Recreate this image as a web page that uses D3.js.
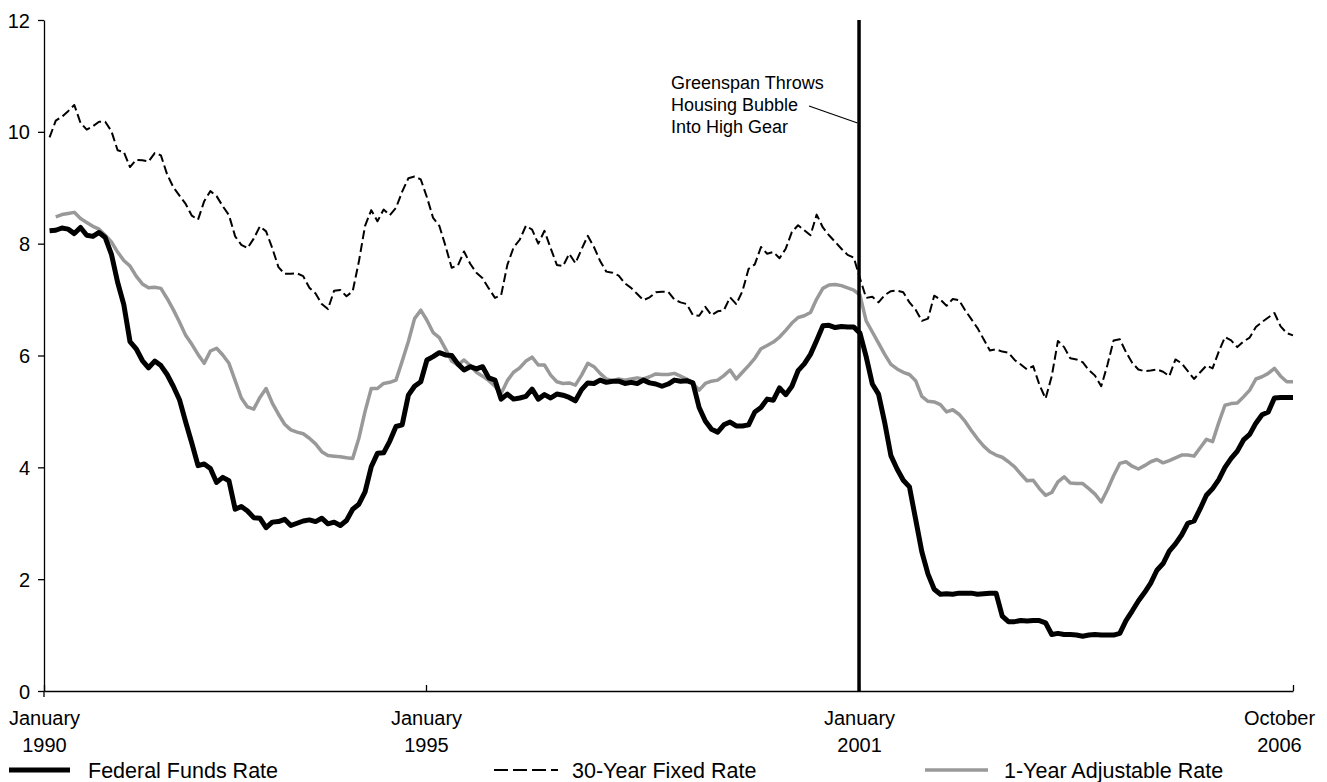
<!DOCTYPE html>
<html>
<head>
<meta charset="utf-8">
<script src="https://cdn.jsdelivr.net/npm/d3@7"></script>
<style>
  body { margin: 0; background: #fff; }
  text { font-family: 'Liberation Sans', Arial, Helvetica, sans-serif; fill: #000; }
</style>
</head>
<body>
<script>
// monthly, January 1990 .. October 2006 (202 months)
const fedFunds = [
  8.23, 8.24, 8.28, 8.26, 8.18, 8.29, 8.15, 8.13, 8.20, 8.11, 7.81, 7.31,
  6.91, 6.25, 6.12, 5.91, 5.78, 5.90, 5.82, 5.66, 5.45, 5.21, 4.81, 4.43,
  4.03, 4.06, 3.98, 3.73, 3.82, 3.76, 3.25, 3.30, 3.22, 3.10, 3.09, 2.92,
  3.02, 3.03, 3.07, 2.96, 3.00, 3.04, 3.06, 3.03, 3.09, 2.99, 3.02, 2.96,
  3.05, 3.25, 3.34, 3.56, 4.01, 4.25, 4.26, 4.47, 4.73, 4.76, 5.29, 5.45,
  5.53, 5.92, 5.98, 6.05, 6.01, 6.00, 5.85, 5.74, 5.80, 5.76, 5.80, 5.60,
  5.56, 5.22, 5.31, 5.22, 5.24, 5.27, 5.40, 5.22, 5.30, 5.24, 5.31, 5.29,
  5.25, 5.19, 5.39, 5.51, 5.50, 5.56, 5.52, 5.54, 5.54, 5.50, 5.52, 5.50,
  5.56, 5.51, 5.49, 5.45, 5.49, 5.56, 5.54, 5.55, 5.51, 5.07, 4.83, 4.68,
  4.63, 4.76, 4.81, 4.74, 4.74, 4.76, 4.99, 5.07, 5.22, 5.20, 5.42, 5.30,
  5.45, 5.73, 5.85, 6.02, 6.27, 6.53, 6.54, 6.50, 6.52, 6.51, 6.51, 6.40,
  5.98, 5.49, 5.31, 4.80, 4.21, 3.97, 3.77, 3.65, 3.07, 2.49, 2.09, 1.82,
  1.73, 1.74, 1.73, 1.75, 1.75, 1.75, 1.73, 1.74, 1.75, 1.75, 1.34, 1.24,
  1.24, 1.26, 1.25, 1.26, 1.26, 1.22, 1.01, 1.03, 1.01, 1.01, 1.00, 0.98,
  1.00, 1.01, 1.00, 1.00, 1.00, 1.03, 1.26, 1.43, 1.61, 1.76, 1.93, 2.16,
  2.28, 2.50, 2.63, 2.79, 3.00, 3.04, 3.26, 3.50, 3.62, 3.78, 4.00, 4.16,
  4.29, 4.49, 4.59, 4.79, 4.94, 4.99, 5.24, 5.25, 5.25, 5.25
];

const fixed30 = [
  9.90, 10.20, 10.27, 10.37, 10.48, 10.16, 10.04, 10.10, 10.18, 10.18, 10.01, 9.67,
  9.64, 9.37, 9.50, 9.49, 9.47, 9.62, 9.58, 9.24, 9.01, 8.86, 8.71, 8.50,
  8.43, 8.76, 8.94, 8.85, 8.67, 8.51, 8.13, 7.98, 7.92, 8.09, 8.31, 8.22,
  7.92, 7.58, 7.46, 7.46, 7.47, 7.42, 7.21, 7.11, 6.92, 6.83, 7.16, 7.17,
  7.06, 7.15, 7.68, 8.32, 8.60, 8.40, 8.61, 8.51, 8.64, 8.93, 9.17, 9.20,
  9.15, 8.83, 8.46, 8.32, 7.96, 7.57, 7.61, 7.86, 7.64, 7.48, 7.38, 7.20,
  7.03, 7.08, 7.62, 7.93, 8.07, 8.32, 8.25, 8.00, 8.23, 7.92, 7.62, 7.60,
  7.82, 7.65, 7.90, 8.14, 7.94, 7.69, 7.50, 7.48, 7.43, 7.29, 7.21, 7.10,
  6.99, 7.04, 7.13, 7.14, 7.14, 7.00, 6.95, 6.92, 6.72, 6.71, 6.87, 6.72,
  6.79, 6.81, 7.04, 6.92, 7.15, 7.55, 7.63, 7.94, 7.82, 7.85, 7.74, 7.91,
  8.21, 8.33, 8.24, 8.15, 8.52, 8.29, 8.15, 8.03, 7.91, 7.80, 7.75, 7.38,
  7.03, 7.05, 6.95, 7.08, 7.15, 7.16, 7.13, 6.95, 6.82, 6.62, 6.66, 7.07,
  7.00, 6.89, 7.01, 6.99, 6.81, 6.65, 6.49, 6.29, 6.09, 6.11, 6.07, 6.05,
  5.92, 5.84, 5.75, 5.81, 5.48, 5.23, 5.63, 6.26, 6.15, 5.95, 5.93, 5.88,
  5.74, 5.64, 5.45, 5.83, 6.27, 6.29, 6.06, 5.87, 5.75, 5.72, 5.73, 5.75,
  5.71, 5.63, 5.93, 5.86, 5.72, 5.58, 5.70, 5.82, 5.77, 6.07, 6.33, 6.27,
  6.15, 6.25, 6.32, 6.51, 6.60, 6.68, 6.76, 6.52, 6.40, 6.36
];

// first month not shown on the chart
const arm1 = [
  null, 8.48, 8.52, 8.54, 8.56, 8.45, 8.38, 8.31, 8.26, 8.15, 8.03, 7.85,
  7.70, 7.60, 7.42, 7.28, 7.21, 7.22, 7.20, 7.02, 6.82, 6.60, 6.36, 6.20,
  6.02, 5.86, 6.08, 6.13, 6.01, 5.86, 5.55, 5.24, 5.08, 5.04, 5.25, 5.41,
  5.15, 4.95, 4.77, 4.67, 4.63, 4.60, 4.52, 4.42, 4.28, 4.21, 4.20, 4.19,
  4.17, 4.16, 4.52, 5.00, 5.41, 5.41, 5.50, 5.52, 5.56, 5.90, 6.25, 6.66,
  6.81, 6.63, 6.41, 6.32, 6.12, 5.90, 5.83, 5.92, 5.82, 5.70, 5.63, 5.55,
  5.45, 5.32, 5.55, 5.70, 5.78, 5.90, 5.97, 5.83, 5.83, 5.65, 5.53, 5.50,
  5.51, 5.47, 5.65, 5.86, 5.80, 5.68, 5.58, 5.55, 5.58, 5.56, 5.58, 5.60,
  5.58, 5.62, 5.67, 5.66, 5.66, 5.68, 5.63, 5.58, 5.50, 5.38, 5.50, 5.54,
  5.56, 5.64, 5.74, 5.58, 5.70, 5.82, 5.95, 6.12, 6.18, 6.24, 6.33, 6.45,
  6.58, 6.68, 6.71, 6.77, 7.01, 7.20, 7.26, 7.27, 7.25, 7.21, 7.17, 7.08,
  6.62, 6.42, 6.22, 6.02, 5.84, 5.76, 5.70, 5.66, 5.55, 5.27, 5.18, 5.17,
  5.12, 4.99, 5.03, 4.95, 4.82, 4.66, 4.51, 4.38, 4.28, 4.22, 4.18, 4.10,
  4.01, 3.88, 3.76, 3.77, 3.62, 3.50, 3.55, 3.74, 3.83, 3.72, 3.71, 3.71,
  3.62, 3.52, 3.38, 3.60, 3.85, 4.07, 4.10, 4.02, 3.97, 4.03, 4.10, 4.14,
  4.08, 4.12, 4.17, 4.22, 4.22, 4.20, 4.35, 4.50, 4.46, 4.80, 5.11, 5.14,
  5.15, 5.26, 5.38, 5.58, 5.62, 5.68, 5.77, 5.63, 5.53, 5.53
];

const yTicks = [0, 2, 4, 6, 8, 10, 12];
// tick positions in months from January 1990, as drawn on the original
const xTickMonths = [-0.9, 60.85, 130.85, 201];
const xTickLabels = [["January", "1990"], ["January", "1995"], ["January", "2001"], ["October", "2006"]];
const markerMonth = 130.85;
const noteLines = ["Greenspan Throws", "Housing Bubble", "Into High Gear"];
const seriesNames = ["Federal Funds Rate", "30-Year Fixed Rate", "1-Year Adjustable Rate"];

const W = 1327, H = 782;
const margin = { top: 20, right: 34, bottom: 91, left: 44 };
const iw = W - margin.left - margin.right;
const ih = H - margin.top - margin.bottom;

const svg = d3.select("body").append("svg")
  .attr("width", W)
  .attr("height", H)
  .style("display", "block");

const g = svg.append("g").attr("transform", `translate(${margin.left},${margin.top})`);

const x = d3.scaleLinear().domain([-0.9, 201]).range([0, iw]);
const y = d3.scaleLinear().domain([0, 12]).range([ih, 0]);

const series = [
  { name: seriesNames[2], values: arm1, color: "#999", width: 3.5, dash: null },
  { name: seriesNames[1], values: fixed30, color: "#000", width: 2, dash: "9,4" },
  { name: seriesNames[0], values: fedFunds, color: "#000", width: 5, dash: null }
];

const line = d3.line()
  .defined(d => d != null)
  .x((d, i) => x(i))
  .y(d => y(d));

g.selectAll("path.series").data(series).enter()
  .append("path")
  .attr("class", "series")
  .attr("fill", "none")
  .attr("stroke", d => d.color)
  .attr("stroke-width", d => d.width)
  .attr("stroke-dasharray", d => d.dash)
  .attr("stroke-linejoin", "round")
  .attr("d", d => line(d.values));

// y axis
const yAxis = g.append("g")
  .call(d3.axisLeft(y).tickValues(yTicks).tickSize(6).tickSizeOuter(0).tickPadding(8));
yAxis.selectAll("text").style("font-size", "20px").attr("dy", "0.35em");
yAxis.selectAll("line, path").attr("stroke", "#000").attr("stroke-width", 1.3);

// x axis
const lastTick = xTickMonths.length - 1;
const xAxis = g.append("g")
  .attr("transform", `translate(0,${ih})`)
  .call(d3.axisBottom(x).tickValues(xTickMonths).tickSizeInner(-6).tickSizeOuter(0).tickFormat(""));
xAxis.selectAll("line, path").attr("stroke", "#000").attr("stroke-width", 1.3);
xAxis.selectAll(".tick").each(function (d, i) {
  const dx = i === lastTick ? -14 : 0;
  const t = d3.select(this).append("text")
    .attr("text-anchor", "middle")
    .style("font-size", "20px");
  t.append("tspan").attr("x", dx).attr("y", 34).text(xTickLabels[i][0]);
  t.append("tspan").attr("x", dx).attr("y", 61).text(xTickLabels[i][1]);
});
// small stub of the y axis below the baseline
g.append("line")
  .attr("x1", x(-0.9)).attr("x2", x(-0.9))
  .attr("y1", y(0)).attr("y2", y(0) + 6)
  .attr("stroke", "#000").attr("stroke-width", 1.3);

// January 2001 marker
g.append("line")
  .attr("x1", x(markerMonth)).attr("x2", x(markerMonth))
  .attr("y1", y(12)).attr("y2", y(0))
  .attr("stroke", "#000").attr("stroke-width", 3.5);

// annotation
const note = g.append("text").style("font-size", "18px");
noteLines.forEach((s, i) => {
  note.append("tspan").attr("x", 627).attr("y", 69 + i * 22).text(s);
});
g.append("line")
  .attr("x1", 765).attr("y1", 86)
  .attr("x2", x(markerMonth) - 1.5).attr("y2", 103)
  .attr("stroke", "#000").attr("stroke-width", 1.2);

// legend
const legendPos = [
  { x0: 9, x1: 70, tx: 88 },
  { x0: 494, x1: 558, tx: 572 },
  { x0: 925, x1: 988, tx: 1004 }
];
const legendSeries = [series[2], series[1], series[0]];
const legend = svg.append("g").attr("transform", "translate(0,770)");
legendSeries.forEach((s, i) => {
  const p = legendPos[i];
  legend.append("line")
    .attr("x1", p.x0).attr("x2", p.x1)
    .attr("stroke", s.color)
    .attr("stroke-width", s.width)
    .attr("stroke-dasharray", s.dash ? "14,5" : null);
  legend.append("text")
    .attr("x", p.tx).attr("y", 7.5)
    .style("font-size", "21.5px")
    .text(s.name);
});
</script>
</body>
</html>
